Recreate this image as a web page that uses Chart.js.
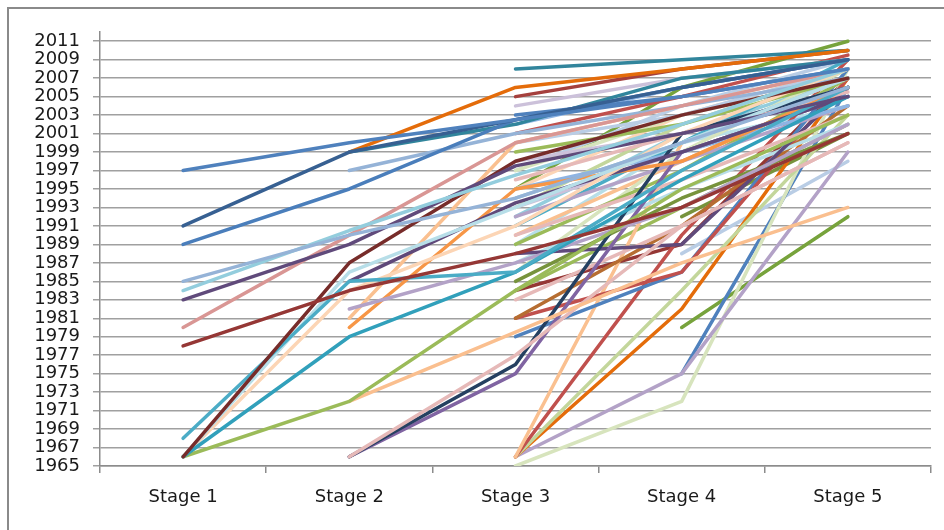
<!DOCTYPE html>
<html>
<head>
<meta charset="utf-8">
<script src="https://cdn.jsdelivr.net/npm/chart.js@4.4.1/dist/chart.umd.min.js"></script>
<style>
  html, body { margin:0; padding:0; background:#fff; }
  #wrap { position:relative; width:944px; height:530px; overflow:hidden; }
  #frame { position:absolute; left:7px; top:7px; width:1000px; height:600px; border:2px solid #8a8a8a; }
  #chart { position:absolute; left:0; top:0; }
</style>
</head>
<body>
<div id="wrap">
  <div id="frame"></div>
  <canvas id="chart" width="944" height="530"></canvas>
</div>
<script>
// categories + axis range
const stages = ["Stage 1", "Stage 2", "Stage 3", "Stage 4", "Stage 5"];
const yMin = 1965, yMax = 2012;
const yTicks = [1965, 1967, 1969, 1971, 1973, 1975, 1977, 1979, 1981, 1983, 1985, 1987,
                1989, 1991, 1993, 1995, 1997, 1999, 2001, 2003, 2005, 2007, 2009, 2011];

// one row per line: value at stage 1..5 (null = not yet started)
const fromStage1 = [
  [1997, 2000, 2002.5, 2005, 2008],
  [1991, 1999, 2002.5, 2006, 2009],
  [1989, 1995, 2002.5, 2006, 2009],
  [1985, 1990, 1994, 2000, 2006],
  [1984, 1990.5, 1996.5, 2002, 2008],
  [1983, 1989, 1997.5, 2001, 2005],
  [1980, 1990, 2000, 2004, 2008],
  [1978, 1984, 1988, 1993, 2001],
  [1966, 1987, 1998, 2003, 2007],
  [1968, 1985, 1986, 1997, 2006],
  [1966, 1979, 1986, 1996, 2005],
  [1966, 1986, 1993, 2000, 2007],
  [1966, 1984, 1991, 2001, 2008],
  [1966, 1972, 1984, 1995, 2003]
];
const fromStage2 = [
  [null, 1999, 2006, 2008, 2010],
  [null, 1999, 2002, 2007, 2009],
  [null, 1997, 2001, 2004, 2007],
  [null, 1985, 1993.5, 1999, 2005],
  [null, 1982, 1987, 1993, 2002],
  [null, 1981, 2000, 2004, 2008],
  [null, 1980, 1995, 1998, 2006],
  [null, 1972, 1979.5, 1987, 1993],
  [null, 1966, 1977, 1991, 2000],
  [null, 1966, 1976, 2001, 2006],
  [null, 1966, 1975, 1999, 2005]
];
const fromStage3 = [
  [null, null, 2008, 2009, 2010],
  [null, null, 2005, 2008, 2010],
  [null, null, 2004, 2007, 2009],
  [null, null, 2001, 2005, 2009.5],
  [null, null, 2003, 2005, 2008],
  [null, null, 2000, 2003, 2008],
  [null, null, 1999, 2002, 2007],
  [null, null, 1998, 2001, 2006],
  [null, null, 1997, 2003, 2007],
  [null, null, 1996, 2001, 2005.5],
  [null, null, 1995, 1999, 2004],
  [null, null, 1994, 2000, 2007],
  [null, null, 1993, 2002, 2008],
  [null, null, 1992, 1998, 2004],
  [null, null, 1991, 2000, 2009],
  [null, null, 1990, 1996, 2003],
  [null, null, 1988, 1989, 2006],
  [null, null, 1989, 1997, 2007],
  [null, null, 1987, 1995, 2002],
  [null, null, 1986, 1999, 2008],
  [null, null, 1985, 1994, 2001],
  [null, null, 1983, 1991, 2000],
  [null, null, 1981, 1991, 2004],
  [null, null, 1981, 1986, 2007],
  [null, null, 1979, 1986, 2008],
  [null, null, 1966, 2000, 2007],
  [null, null, 1966, 1990, 2009],
  [null, null, 1966, 1984, 2003],
  [null, null, 1966, 1982, 2007],
  [null, null, 1966, 1975, 1999],
  [null, null, 1965, 1972, 2008],
  [null, null, 1997, 2004, 2009],
  [null, null, 1995, 2003, 2008],
  [null, null, 1993, 1999, 2005],
  [null, null, 1992, 2001, 2007],
  [null, null, 1990, 1998, 2006],
  [null, null, 1989, 2000, 2004],
  [null, null, 1984, 1993, 2002],
  [null, null, 1995, 2006, 2011],
  [null, null, 2002, 2006, 2009],
  [null, null, 1984, 1989, 2007]
];
const fromStage4 = [
  [null, null, null, 1975, 2006],
  [null, null, null, 1980, 1992],
  [null, null, null, 1992, 2001],
  [null, null, null, 1988, 1998]
];

// line colours, same order as the rows above
const colors1 = ['#4F81BD','#376092','#4A7EBB','#95B3D7','#93CDDD','#604A7B','#D99694',
                 '#953735','#772C2A','#4BACC6','#31A0BB','#B7DEE8','#FCD5B5','#9BBB59'];
const colors2 = ['#E46C0A','#31859C','#95B3D7','#5F497A','#B3A2C7','#FAC090','#F79646',
                 '#FABF8F','#E6B9B8','#254061','#8064A2'];
const colors3 = ['#31859C','#A5403D','#CCC1DA','#C0504D','#4F81BD','#B9CDE5','#9BBB59',
                 '#CCC1DA','#D7E4BD','#E6B9B8','#8EB4E3','#93CDDD','#C3D69B','#B3A2C7',
                 '#4BACC6','#E6B9B8','#604A7B','#9BBB59','#B7DEE8','#D7E4BD','#77933C',
                 '#E6B9B8','#B66D31','#C0504D','#4F81BD','#FAC090','#C0504D','#C3D69B',
                 '#E46C0A','#B3A2C7','#D7E4BD',
                 '#B9CDE5','#FCD5B5','#CCC1DA','#93CDDD','#FAC090','#B7DEE8','#9BBB59',
                 '#77A33C','#8EB4E3','#953735'];
const colors4 = ['#4F81BD','#77A33C','#77933C','#B9CDE5'];

const rows = [].concat(fromStage1, fromStage2, fromStage3, fromStage4);
const cols = [].concat(colors1, colors2, colors3, colors4);

const datasets = rows.map((r, i) => ({
  data: r,
  borderColor: cols[i],
  borderWidth: 3.5,
  pointRadius: 0,
  tension: 0,
  fill: false,
  borderCapStyle: 'round',
  borderJoinStyle: 'round'
}));

const axisGray = '#8c8c8c';
const font = { family: 'DejaVu Sans', size: 18 };

new Chart(document.getElementById('chart'), {
  type: 'line',
  data: { labels: stages, datasets: datasets },
  options: {
    responsive: false,
    animation: false,
    layout: { padding: { top: 32, right: 13, left: 0, bottom: 0 } },
    plugins: { legend: { display: false }, tooltip: { enabled: false } },
    scales: {
      x: {
        offset: true,
        grid: { offset: true, drawOnChartArea: false, drawTicks: true, tickLength: 7, color: axisGray, lineWidth: 1.5 },
        border: { display: true, color: axisGray, width: 1.5 },
        ticks: { font: font, color: '#1a1a1a', padding: 14, maxRotation: 0 },
        afterFit: s => { s.height = 64; }
      },
      y: {
        min: yMin, max: yMax,
        grid: { color: '#a0a0a0', lineWidth: 1.5, tickLength: 7 },
        border: { display: true, color: axisGray, width: 1.5 },
        ticks: {
          autoSkip: false,
          font: font, color: '#1a1a1a', padding: 13,
          callback: v => String(v)
        },
        afterBuildTicks: s => { s.ticks = yTicks.map(v => ({ value: v })); },
        afterFit: s => { s.width = 100; }
      }
    }
  }
});
</script>
</body>
</html>
